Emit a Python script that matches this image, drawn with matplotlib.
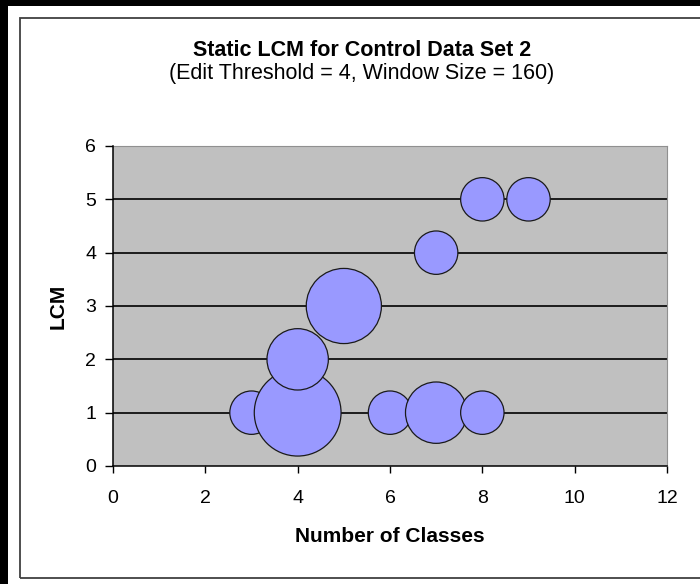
import matplotlib
matplotlib.use("Agg")
import matplotlib.pyplot as plt
from matplotlib.patches import Rectangle

# ---- data ----
num_classes = [3, 4, 4, 5, 6, 7, 7, 8, 8, 9]
lcm_values = [1, 1, 2, 3, 1, 1, 4, 1, 5, 5]
bubble_sizes = [1, 4, 2, 3, 1, 2, 1, 1, 1, 1]
x_ticks = [0, 2, 4, 6, 8, 10, 12]
y_ticks = [0, 1, 2, 3, 4, 5, 6]
title = "Static LCM for Control Data Set 2"
subtitle = "(Edit Threshold = 4, Window Size = 160)"
x_label = "Number of Classes"
y_label = "LCM"

plt.rcParams['font.family'] = ['Liberation Sans', 'DejaVu Sans']

W, H = 700, 584
fig = plt.figure(figsize=(7.0, 5.84), dpi=100)
fig.patch.set_facecolor('white')

# outer black frame (top and left) and chart border
fig.patches.append(Rectangle((0, 0), 8 / W, 1, transform=fig.transFigure,
                             facecolor='black', edgecolor='none', zorder=0))
fig.patches.append(Rectangle((0, 1 - 6 / H), 1, 6 / H, transform=fig.transFigure,
                             facecolor='black', edgecolor='none', zorder=0))
fig.patches.append(Rectangle((20 / W, 1 - 578 / H), (720 - 20) / W, (578 - 18) / H,
                             transform=fig.transFigure, facecolor='none',
                             edgecolor='#404040', linewidth=1.3, zorder=1))

left, right, top, bottom = 113, 667, 146, 466
ax = fig.add_axes([left / W, 1 - bottom / H, (right - left) / W, (bottom - top) / H])
ax.set_facecolor('#C0C0C0')

ax.set_xlim(0, 12)
ax.set_ylim(0, 6)
ax.set_xticks(x_ticks)
ax.set_yticks(y_ticks)
ax.set_xticklabels([str(v) for v in x_ticks])
ax.set_yticklabels([str(v) for v in y_ticks])

for yv in y_ticks[1:-1]:
    ax.axhline(yv, color='black', linewidth=1.2, zorder=1)

base = 976.0  # points^2 for size 1
ax.scatter(num_classes, lcm_values, s=[b * base for b in bubble_sizes],
           facecolor='#9999FF', edgecolor='#1a1a1a', linewidth=0.9, zorder=3)

for side in ['top', 'right']:
    ax.spines[side].set_color('#909090')
    ax.spines[side].set_linewidth(0.8)
for side in ['left', 'bottom']:
    ax.spines[side].set_color('black')
    ax.spines[side].set_linewidth(1.1)
    ax.spines[side].set_zorder(4)

ax.tick_params(axis='x', direction='out', length=5, width=1, color='black',
               labelsize=14, pad=12)
ax.tick_params(axis='y', direction='out', length=6, width=1, color='black',
               labelsize=14, pad=6)

ax.set_xlabel(x_label, fontsize=15, fontweight='bold', va='center')
ax.xaxis.set_label_coords(0.5, (bottom - 537) / (bottom - top))
ax.set_ylabel(y_label, fontsize=15, fontweight='bold', va='center')
ax.yaxis.set_label_coords((58 - left) / (right - left), 0.5)

fig.text(362 / W, 1 - 50 / H, title, ha='center', va='center',
         fontsize=15.5, fontweight='bold')
fig.text(362 / W, 1 - 73 / H, subtitle, ha='center', va='center', fontsize=15.5)

fig.savefig('out.png', dpi=100)
